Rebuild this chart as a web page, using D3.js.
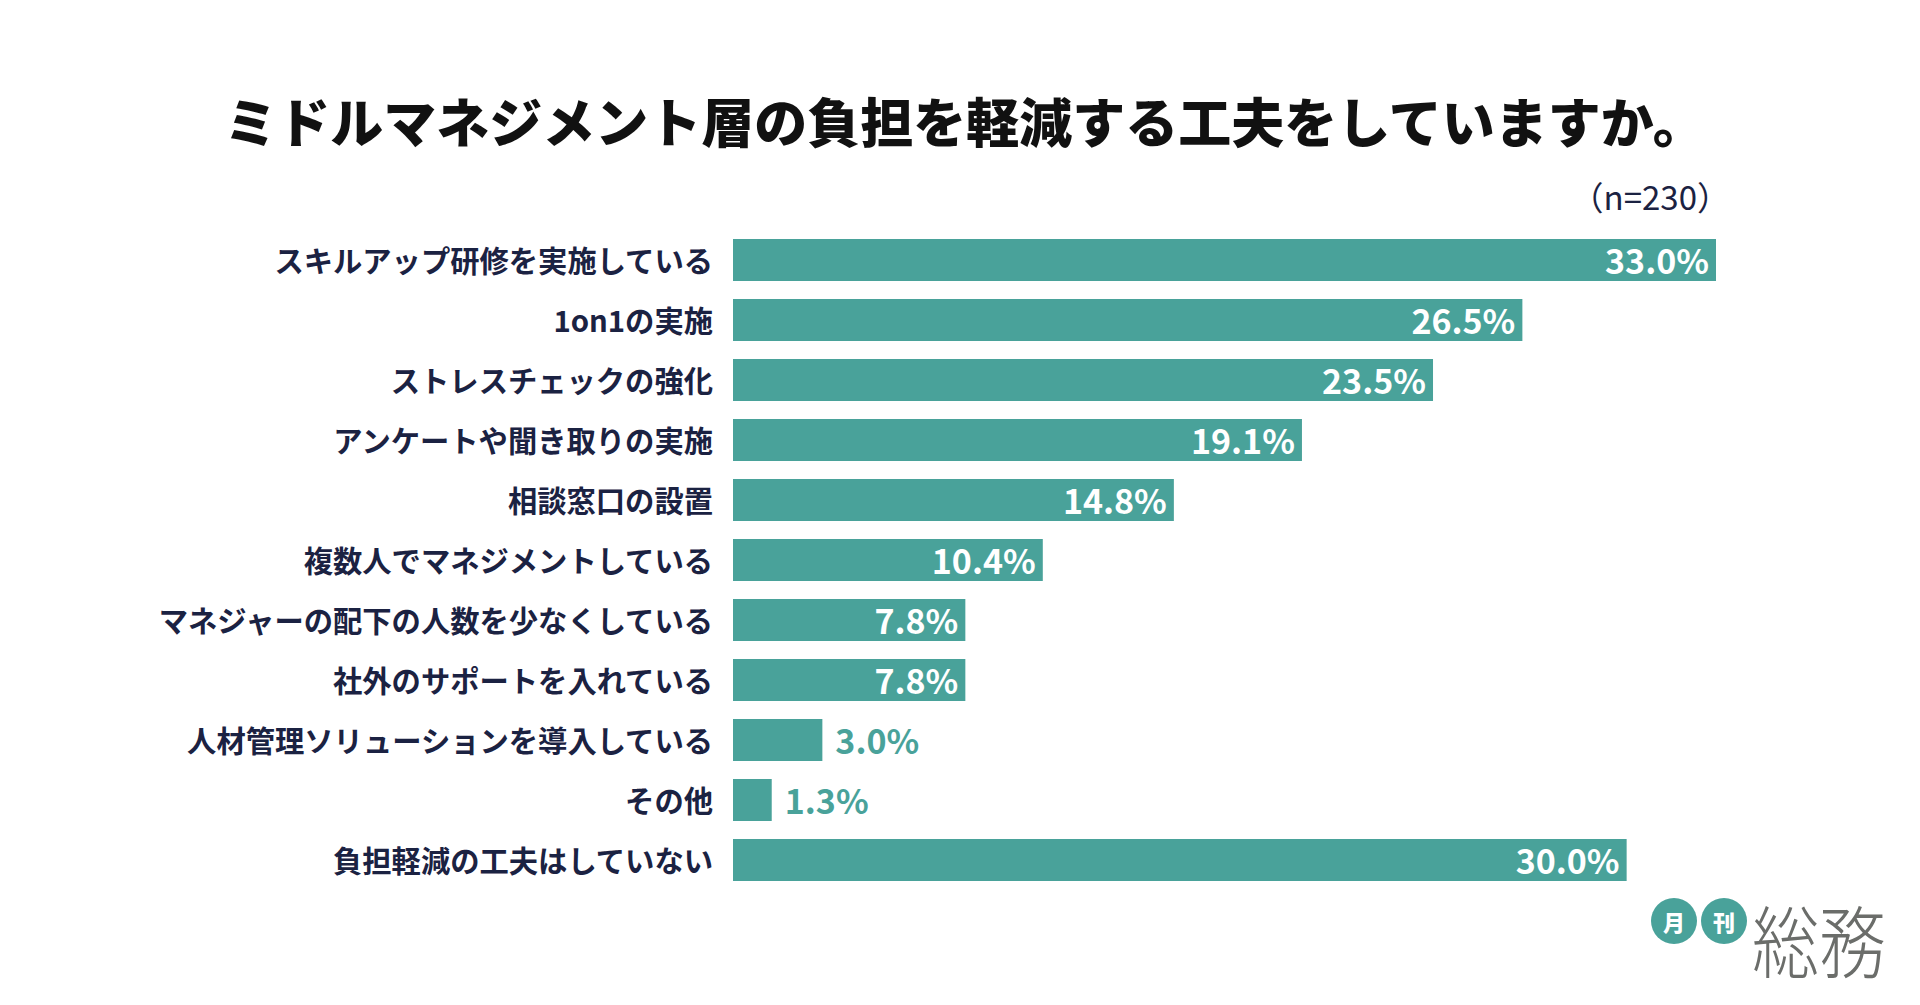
<!DOCTYPE html>
<html>
<head>
<meta charset="utf-8">
<script src="https://cdn.jsdelivr.net/npm/d3@7"></script>
<style>
  html, body { margin: 0; padding: 0; background: #fff; }
  svg { display: block; font-family: "Noto Sans CJK JP", "Noto Sans", sans-serif; }
</style>
</head>
<body>
<svg id="chart" width="1920" height="1005"></svg>
<script>
//  data
const title = "ミドルマネジメント層の負担を軽減する工夫をしていますか。";
const sample_note = "（n=230）";
const categories = [
  "スキルアップ研修を実施している",
  "1on1の実施",
  "ストレスチェックの強化",
  "アンケートや聞き取りの実施",
  "相談窓口の設置",
  "複数人でマネジメントしている",
  "マネジャーの配下の人数を少なくしている",
  "社外のサポートを入れている",
  "人材管理ソリューションを導入している",
  "その他",
  "負担軽減の工夫はしていない"
];
const values = [33.0, 26.5, 23.5, 19.1, 14.8, 10.4, 7.8, 7.8, 3.0, 1.3, 30.0];
const logo_marks = ["月", "刊"];
const logo_name = "総務";

//  draw bar chart
function draw_chart() {
  const teal = "#49a29a";
  const navy = "#1b2242";
  const margin = ({top: 239, left: 733});
  const svg = d3.select("#chart");

  svg.selectAll('*').remove();

  //  scales
  const x = d3.scaleLinear()
    .domain([0, 33])
    .range([margin.left, 1716]);

  //  step 60, bar 42
  const y = d3.scaleBand()
    .domain(categories)
    .range([margin.top, margin.top + 60 * (categories.length - 1) + 42])
    .paddingInner(0.3)
    .paddingOuter(0);

  //  title
  svg.append("text")
     .attr("x", 965)
     .attr("y", 120)
     .attr("text-anchor", "middle")
     .attr("dominant-baseline", "central")
     .style("font-size", "53px")
     .style("font-weight", "900")
     .attr("fill", "#111")
     .text(title);

  //  n
  svg.append("text")
     .attr("x", 1730)
     .attr("y", 196)
     .attr("text-anchor", "end")
     .attr("dominant-baseline", "central")
     .style("font-size", "33px")
     .attr("fill", navy)
     .text(sample_note);

  const rows = svg.append("g")
    .selectAll("g")
    .data(categories)
    .join("g");

  //  bars
  rows.append("rect")
      .attr("x", x(0))
      .attr("y", d => y(d))
      .attr("width", (d, i) => x(values[i]) - x(0))
      .attr("height", y.bandwidth())
      .attr("fill", teal);

  //  category labels
  rows.append("text")
      .attr("x", 713)
      .attr("y", d => y(d) + 20)
      .attr("text-anchor", "end")
      .attr("dominant-baseline", "central")
      .style("font-size", "29.3px")
      .style("font-weight", "700")
      .attr("fill", navy)
      .text(d => d);

  //  value labels
  rows.append("text")
      .attr("x", (d, i) => values[i] >= 5 ? x(values[i]) - 7 : x(values[i]) + 13)
      .attr("y", d => y(d) + 20)
      .attr("text-anchor", (d, i) => values[i] >= 5 ? "end" : "start")
      .attr("dominant-baseline", "central")
      .style("font-size", "34px")
      .style("font-weight", "700")
      .attr("fill", (d, i) => values[i] >= 5 ? "#fff" : teal)
      .text((d, i) => values[i].toFixed(1) + "%");

  //  logo
  const logo = svg.append("g");
  logo.selectAll("circle")
      .data(logo_marks)
      .join("circle")
      .attr("cx", (d, i) => 1674 + i * 50)
      .attr("cy", 921)
      .attr("r", 23)
      .attr("fill", teal);

  logo.selectAll("text.mark")
      .data(logo_marks)
      .join("text")
      .attr("class", "mark")
      .attr("x", (d, i) => 1674 + i * 50)
      .attr("y", 921)
      .attr("text-anchor", "middle")
      .attr("dominant-baseline", "central")
      .style("font-size", "22px")
      .style("font-weight", "900")
      .attr("fill", "#fff")
      .text(d => d);

  logo.append("text")
      .attr("x", 1752)
      .attr("y", 938)
      .attr("dominant-baseline", "central")
      .attr("textLength", 134)
      .attr("lengthAdjust", "spacingAndGlyphs")
      .style("font-size", "78px")
      .style("font-weight", "300")
      .attr("fill", "#6b6d6a")
      .text(logo_name);
}

draw_chart();
</script>
</body>
</html>
